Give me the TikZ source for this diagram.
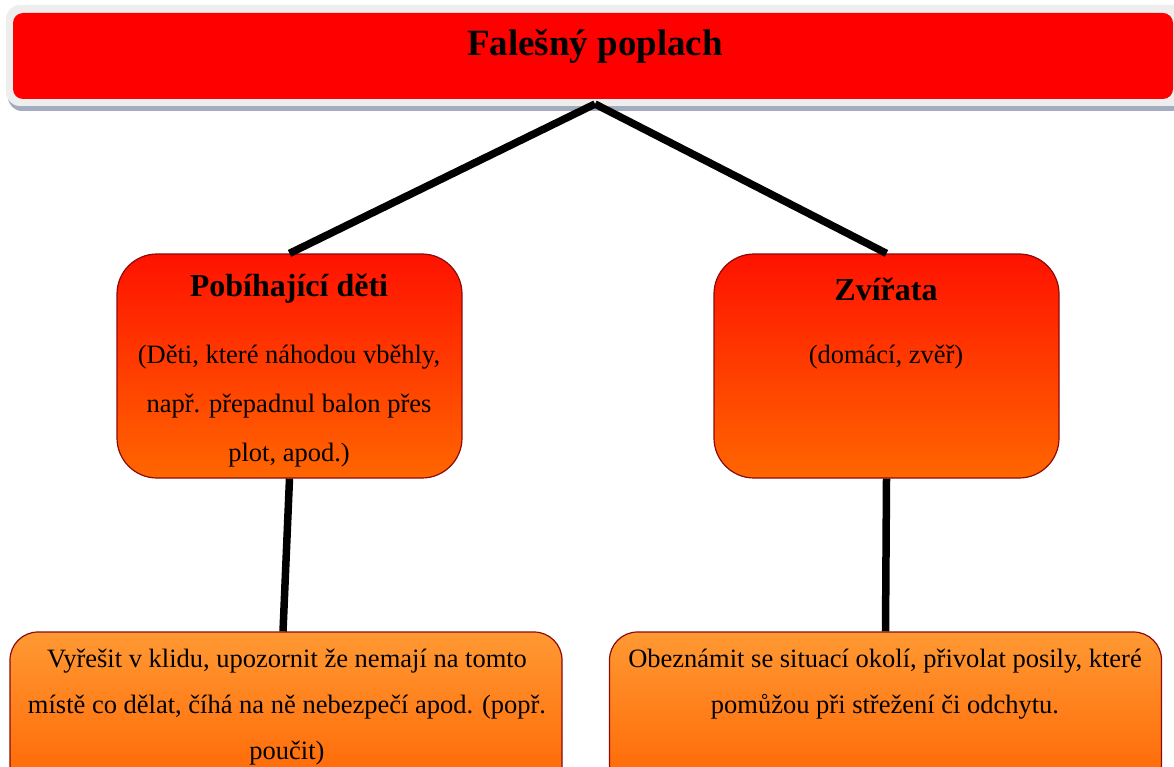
\documentclass[tikz,border=0pt]{standalone}
\usepackage{fontspec}
\setmainfont{Liberation Serif}
\definecolor{titlered}{HTML}{FF0000}
\definecolor{boxtop}{HTML}{FF1200}
\definecolor{boxbot}{HTML}{FF6600}
\definecolor{lowtop}{HTML}{FF9933}
\definecolor{lowbot}{HTML}{FF6200}
\definecolor{edge}{HTML}{8B0A0A}
\definecolor{outergray}{HTML}{EEEEEE}
\definecolor{shadowblue}{HTML}{A3ADBF}
\tikzset{
  midbox/.style={draw=edge, line width=1.2pt, rounded corners=40pt, top color=boxtop, bottom color=boxbot, minimum width=345pt, minimum height=224pt, inner sep=0pt},
  lowbox/.style={draw=edge, line width=1.2pt, rounded corners=28pt, top color=lowtop, bottom color=lowbot, minimum width=552pt, minimum height=170pt, inner sep=0pt},
  conn/.style={line width=7.5pt, black},
  head/.style={font=\fontsize{32}{36}\selectfont\bfseries, inner sep=0pt},
  body/.style={font=\fontsize{26.5}{49}\selectfont, align=center, inner sep=0pt},
  lowbody/.style={font=\fontsize{26.5}{46}\selectfont, align=center, inner sep=0pt},
}
\begin{document}
\begin{tikzpicture}[x=1pt,y=-1pt]
\useasboundingbox (0,0) rectangle (1174,767);
\clip (0,0) rectangle (1174,767);
% title
\fill[shadowblue, rounded corners=14pt] (8,12) rectangle (1195,111);
\fill[outergray, rounded corners=14pt] (6,5) rectangle (1195,106);
\node[fill=titlered, rounded corners=10pt, minimum width=1160pt, minimum height=86pt, inner sep=0pt] (title) at (593,56) {};
\node[font=\fontsize{37}{40}\selectfont\bfseries, inner sep=0pt] (titletext) at (595,46) {Falešný poplach};
\coordinate (apex) at (595,104);
% middle boxes
\node[midbox] (deti) at (289.5,366) {};
\node[midbox] (zvirata) at (886.5,366) {};
% lower boxes
\node[lowbox] (reseni1) at (286,717) {};
\node[lowbox] (reseni2) at (885.5,717) {};
% connectors
\draw[conn] (apex) -- (deti.north);
\draw[conn] (apex) -- (zvirata.north);
\draw[conn] (deti.south) -- ([xshift=-3pt]reseni1.north);
\draw[conn] (zvirata.south) -- (reseni2.north);
% texts
\node[head] (h1) at (289,289) {Pobíhající děti};
\node[body] (b1) at (289,406) {(Děti, které náhodou vběhly,\\ např. přepadnul balon přes\\ plot, apod.)};
\node[head] (h2) at (886,289) {Zvířata};
\node[body] (b2) at (886,357) {(domácí, zvěř)};
\node[lowbody] (t1) at (287,707) {Vyřešit v klidu, upozornit že nemají na tomto\\ místě co dělat, číhá na ně nebezpečí apod. (popř.\\ poučit)};
\node[lowbody] (t2) at (885,684) {Obeznámit se situací okolí, přivolat posily, které\\ pomůžou při střežení či odchytu.};
\end{tikzpicture}
\end{document}
